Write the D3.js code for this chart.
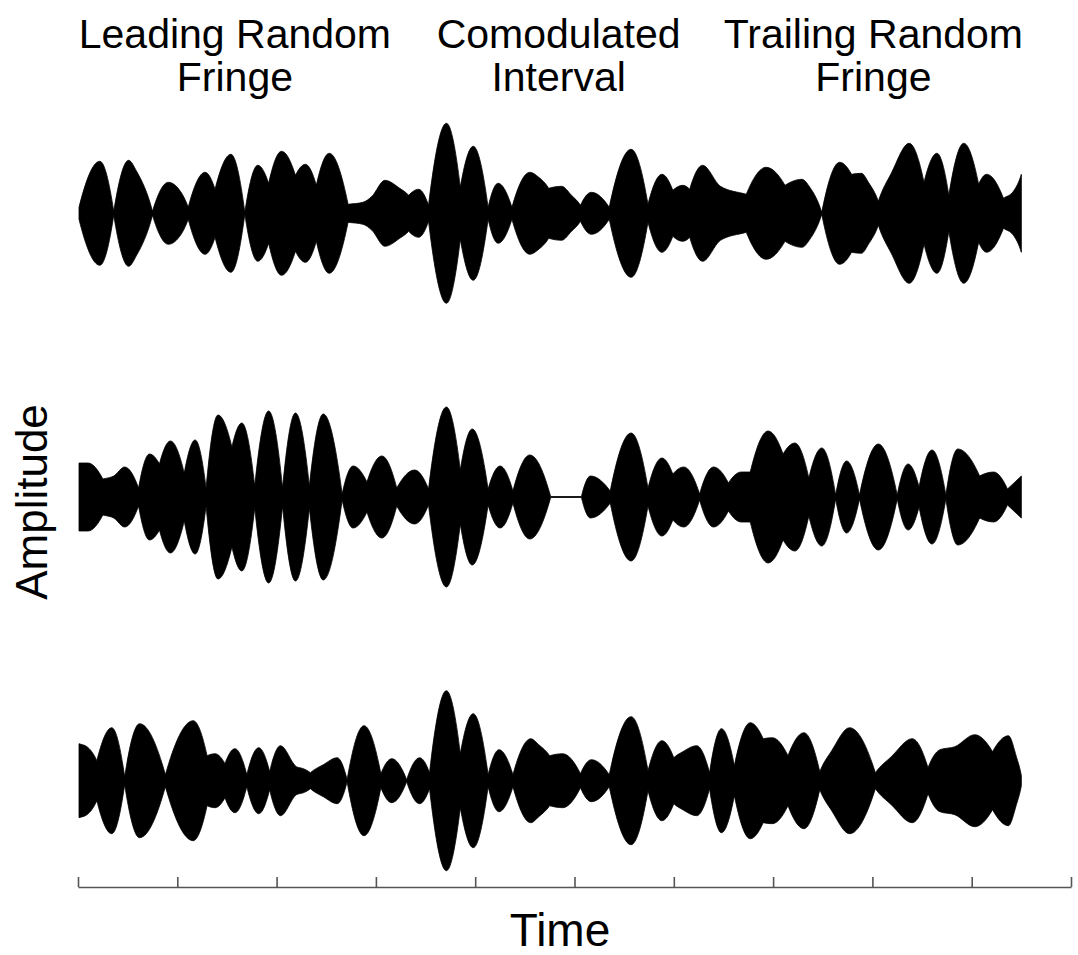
<!DOCTYPE html>
<html>
<head>
<meta charset="utf-8">
<script src="https://cdn.jsdelivr.net/npm/d3@7"></script>
<style>
html,body{margin:0;padding:0;background:#fff;}
svg{display:block;}
text{font-family:"Liberation Sans",Arial,Helvetica,sans-serif;fill:#000;}
</style>
</head>
<body>
<svg id="chart" width="1078" height="955"></svg>
<script>
// ---- Data (envelope key points: time in s, amplitude in arbitrary units) ----
const sectionTitles = [["Leading Random","Fringe"],["Comodulated","Interval"],["Trailing Random","Fringe"]];
const sectionCenters = [0.158, 0.484, 0.801];
const tickValues = [0,0.1,0.2,0.3,0.4,0.5,0.6,0.7,0.8,0.9,1.0];

const times1 = [.001,.022,.036,.051,.059,.075,.091,.099,.111,.128,.138,.154,.168,.181,.192,.205,.219,.229,.240,.253,.272,.287,.296,.309,.324,.333,.343,.353,.371,.385,.398,.413,.423,.437,.455,.464,.474,.487,.497,.506,.517,.535,.557,.574,.588,.599,.609,.616,.629,.647,.673,.693,.712,.729,.737,.749,.767,.779,.789,.796,.806,.819,.837,.852,.865,.877,.892,.907,.915,.932,.942,.950];
const amps1  = [.06,.52,.02,.53,.42,.02,.31,.27,.06,.41,.24,.59,.01,.48,.30,.62,.38,.49,.28,.60,.09,.11,.17,.33,.25,.18,.24,.08,.90,.26,.67,.06,.30,.06,.41,.36,.25,.27,.18,.08,.21,.06,.64,.09,.39,.23,.28,.24,.48,.27,.19,.46,.28,.34,.26,.01,.51,.39,.40,.31,.12,.40,.70,.31,.60,.18,.70,.29,.39,.15,.22,.39];

const times2 = [.001,.010,.025,.036,.047,.061,.072,.082,.093,.107,.118,.129,.141,.155,.165,.178,.192,.206,.219,.233,.247,.266,.277,.291,.306,.321,.339,.353,.371,.385,.397,.413,.425,.438,.455,.476,.507,.516,.536,.557,.574,.588,.599,.610,.626,.640,.655,.668,.677,.695,.710,.722,.736,.749,.763,.774,.787,.806,.825,.836,.847,.860,.874,.886,.908,.922,.936,.950];
const amps2  = [.34,.34,.18,.21,.30,.09,.43,.33,.56,.24,.57,.09,.82,.50,.74,.11,.86,.09,.84,.11,.83,.03,.31,.15,.41,.09,.27,.08,.90,.27,.68,.08,.31,.06,.42,.005,.005,.21,.06,.64,.09,.39,.23,.30,.03,.30,.14,.25,.25,.66,.43,.54,.19,.49,.02,.36,.02,.53,.02,.33,.10,.47,.02,.48,.21,.25,.08,.21];

const times3 = [.001,.009,.019,.034,.047,.062,.088,.116,.130,.138,.148,.158,.170,.182,.193,.204,.220,.227,.234,.247,.261,.271,.288,.305,.316,.331,.344,.354,.371,.385,.398,.413,.424,.438,.456,.464,.475,.488,.506,.517,.535,.557,.574,.588,.600,.609,.623,.636,.648,.661,.677,.690,.699,.715,.731,.747,.759,.777,.803,.819,.840,.856,.868,.883,.903,.921,.937,.945,.950];
const amps3  = [.37,.34,.20,.53,.04,.57,.06,.60,.25,.27,.17,.32,.06,.33,.09,.35,.14,.12,.08,.16,.23,.01,.55,.07,.22,.01,.23,.08,.90,.27,.67,.06,.31,.06,.42,.36,.25,.27,.07,.21,.06,.64,.10,.40,.23,.29,.35,.08,.52,.15,.58,.42,.43,.25,.48,.09,.30,.53,.08,.24,.42,.13,.31,.34,.46,.29,.45,.24,.05];

const tracks = [
  {id:0, times:times1, amps:amps1},
  {id:1, times:times2, amps:amps2},
  {id:2, times:times3, amps:amps3}
];

// ---- Layout ----
const svg = d3.select("#chart");
const x = d3.scaleLinear().domain([0,1]).range([78,1071]);
const trackY = d3.scalePoint().domain([0,1,2]).range([213.3,780.7]);
const amp = d3.scaleLinear().domain([0,1]).range([0,100]);

// split envelope into lobes at local minima (sharp joints between lobes)
function splitLobes(pts){
  const segs=[]; let cur=[pts[0]];
  for(let i=1;i<pts.length;i++){
    cur.push(pts[i]);
    if(i<pts.length-1 && pts[i].a<=pts[i-1].a && pts[i].a<=pts[i+1].a){
      segs.push(cur); cur=[pts[i]];
    }
  }
  segs.push(cur);
  return segs;
}

// tangents for a lobe (pixel coords): monotone inside, fuller at the joints
function tangents(P){
  const n=P.length, m=new Array(n).fill(0);
  if(n<2) return m;
  const sec=[]; for(let i=0;i<n-1;i++) sec.push((P[i+1][1]-P[i][1])/(P[i+1][0]-P[i][0]));
  for(let i=1;i<n-1;i++){
    const s0=sec[i-1], s1=sec[i];
    if(s0*s1<=0){ m[i]=0; continue; }
    const h0=P[i][0]-P[i-1][0], h1=P[i+1][0]-P[i][0];
    const p=(s0*h1+s1*h0)/(h0+h1);
    m[i]=Math.sign(s0)*Math.min(2*Math.abs(s0),2*Math.abs(s1),Math.abs(p));
  }
  const K=1.8;
  m[0] = n>2 ? K*sec[0] - (K-1)*m[1]*0.5 : sec[0];
  m[n-1] = n>2 ? K*sec[n-2] - (K-1)*m[n-2]*0.5 : sec[n-2];
  return m;
}

function drawLobe(ctx, P, first){
  const m=tangents(P);
  if(first) ctx.moveTo(P[0][0],P[0][1]); else ctx.lineTo(P[0][0],P[0][1]);
  for(let i=0;i<P.length-1;i++){
    const dx=(P[i+1][0]-P[i][0])/3;
    ctx.bezierCurveTo(P[i][0]+dx, P[i][1]+m[i]*dx, P[i+1][0]-dx, P[i+1][1]-m[i+1]*dx, P[i+1][0], P[i+1][1]);
  }
}

tracks.forEach(tr=>{
  const cy = trackY(tr.id);
  const pts = tr.times.map((t,i)=>({t, a:tr.amps[i]}));
  const segs = splitLobes(pts);
  const ctx = d3.path();
  segs.forEach((s,i)=> drawLobe(ctx, s.map(d=>[x(d.t), cy - amp(d.a)]), i===0));
  segs.slice().reverse().forEach(s=> drawLobe(ctx, s.slice().reverse().map(d=>[x(d.t), cy + amp(d.a)]), false));
  ctx.closePath();
  svg.append("path")
    .attr("d", ctx.toString())
    .attr("fill","#000")
    .attr("stroke","#000")
    .attr("stroke-width",0.8)
    .attr("stroke-linejoin","round");
});

// ---- Axis ----
const axis = d3.axisBottom(x).tickValues(tickValues).tickSizeInner(-10).tickSizeOuter(0).tickFormat("");
const ax = svg.append("g").attr("transform","translate(0,887)").call(axis);
ax.selectAll("path,line").attr("stroke","#555").attr("stroke-width",1.6);

// ---- Titles ----
sectionTitles.forEach((lines,i)=>{
  const t = svg.append("text").attr("text-anchor","middle").attr("font-size",41);
  lines.forEach((s,j)=>{
    t.append("tspan").attr("x", x(sectionCenters[i])).attr("y", 48 + j*43).text(s);
  });
});

svg.append("text").attr("x",560).attr("y",946).attr("text-anchor","middle").attr("font-size",46).text("Time");
svg.append("text").attr("transform","translate(47,502) rotate(-90)").attr("text-anchor","middle").attr("font-size",44).text("Amplitude");
</script>
</body>
</html>
